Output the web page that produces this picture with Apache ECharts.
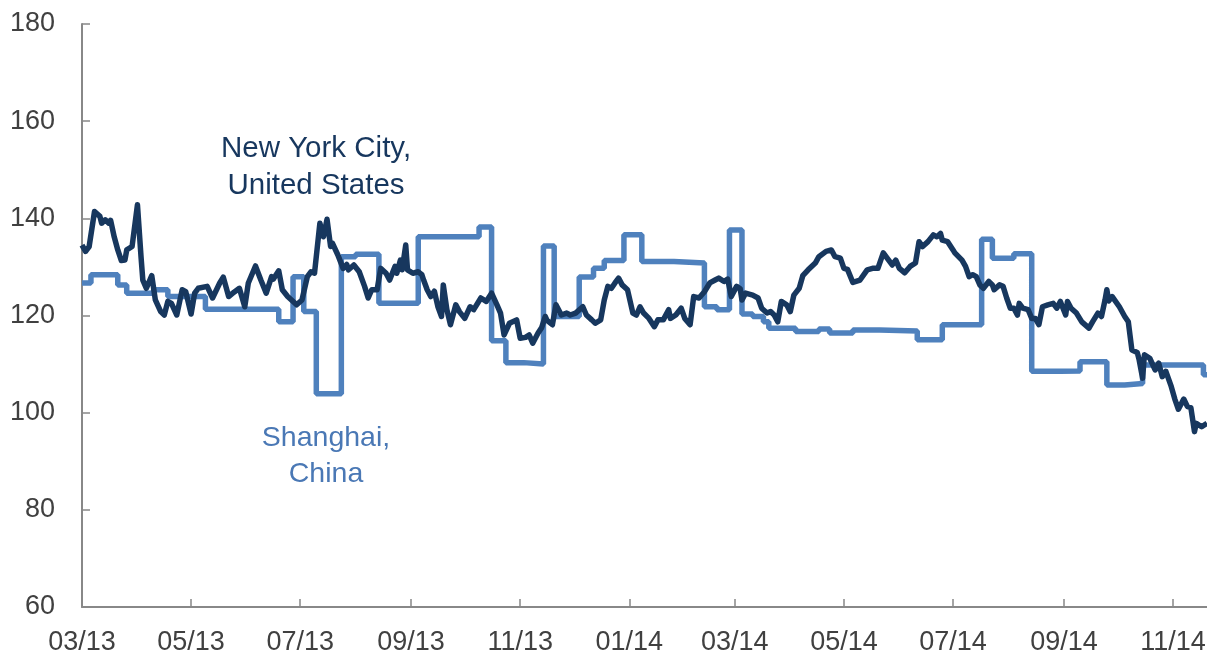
<!DOCTYPE html>
<html lang="en">
<head>
	<meta charset="UTF-8">
	<title>Index: New York City vs Shanghai</title>
	<script src="https://cdn.jsdelivr.net/npm/echarts@6.0.0/dist/echarts.min.js"></script>
	<style>
		html, body { margin: 0; padding: 0; background: #fff; }
	</style>
</head>
<body>
	<div id="main" style="width: 1207px; height: 655px;"></div>
	<script>
		// first and last day shown on the x axis
		var firstDay = '2013-03-01'
		var lastDay = '2014-11-20'

		// y axis
		var yMin = 60
		var yMax = 180
		var yStep = 20

		// New York City, United States  [date, index]
		var nycData = [
			['2013-03-01', 134.5], ['2013-03-03', 133.2], ['2013-03-05', 134.2], ['2013-03-06', 133.8],
			['2013-03-08', 141.4], ['2013-03-11', 140.4], ['2013-03-12', 139.0], ['2013-03-14', 139.7],
			['2013-03-16', 139.0], ['2013-03-17', 139.6], ['2013-03-19', 136.2], ['2013-03-21', 133.5],
			['2013-03-23', 131.3], ['2013-03-25', 131.4], ['2013-03-26', 133.5], ['2013-03-29', 134.2],
			['2013-04-01', 142.8], ['2013-04-03', 132.1], ['2013-04-04', 127.3], ['2013-04-06', 125.6],
			['2013-04-09', 128.2], ['2013-04-11', 123.2], ['2013-04-14', 120.8], ['2013-04-16', 120.1],
			['2013-04-18', 122.9], ['2013-04-20', 122.5], ['2013-04-23', 120.1], ['2013-04-26', 125.3],
			['2013-04-28', 124.9], ['2013-05-01', 120.3], ['2013-05-03', 124.6], ['2013-05-05', 125.6],
			['2013-05-10', 126.0], ['2013-05-13', 123.6], ['2013-05-17', 126.7], ['2013-05-19', 127.9],
			['2013-05-22', 123.9], ['2013-05-25', 124.8], ['2013-05-28', 125.6], ['2013-05-31', 121.8],
			['2013-06-02', 126.7], ['2013-06-06', 130.2], ['2013-06-09', 127.3], ['2013-06-12', 124.6],
			['2013-06-15', 128.0], ['2013-06-16', 127.5], ['2013-06-19', 129.2], ['2013-06-21', 125.3],
			['2013-06-24', 123.9], ['2013-06-29', 122.2], ['2013-07-02', 123.2], ['2013-07-05', 128.0],
			['2013-07-07', 129.0], ['2013-07-09', 128.7], ['2013-07-12', 139.0], ['2013-07-13', 139.3],
			['2013-07-14', 136.2], ['2013-07-16', 139.8], ['2013-07-18', 134.2], ['2013-07-19', 134.9],
			['2013-07-22', 132.5], ['2013-07-25', 129.7], ['2013-07-27', 130.5], ['2013-07-28', 129.4],
			['2013-07-31', 130.4], ['2013-08-03', 129.0], ['2013-08-06', 126.0], ['2013-08-08', 123.6],
			['2013-08-10', 125.3], ['2013-08-13', 125.3], ['2013-08-15', 129.7], ['2013-08-18', 128.7],
			['2013-08-20', 127.3], ['2013-08-23', 130.1], ['2013-08-24', 128.7], ['2013-08-26', 131.4],
			['2013-08-27', 129.4], ['2013-08-29', 134.5], ['2013-08-30', 129.4], ['2013-09-02', 128.7],
			['2013-09-05', 129.0], ['2013-09-07', 128.4], ['2013-09-08', 127.3], ['2013-09-10', 125.3],
			['2013-09-12', 123.9], ['2013-09-14', 125.0], ['2013-09-16', 121.8], ['2013-09-18', 119.8],
			['2013-09-19', 126.3], ['2013-09-21', 121.2], ['2013-09-23', 118.1], ['2013-09-26', 122.2],
			['2013-09-28', 120.8], ['2013-10-01', 119.4], ['2013-10-04', 121.8], ['2013-10-06', 121.2],
			['2013-10-10', 123.6], ['2013-10-13', 122.9], ['2013-10-16', 124.6], ['2013-10-19', 122.2],
			['2013-10-21', 120.5], ['2013-10-23', 116.0], ['2013-10-26', 118.4], ['2013-10-30', 119.1],
			['2013-11-01', 115.3], ['2013-11-04', 115.5], ['2013-11-06', 116.0], ['2013-11-08', 114.3],
			['2013-11-11', 116.4], ['2013-11-13', 117.5], ['2013-11-15', 119.8], ['2013-11-16', 119.0],
			['2013-11-19', 118.1], ['2013-11-21', 122.2], ['2013-11-24', 120.1], ['2013-11-27', 120.5],
			['2013-11-29', 120.1], ['2013-12-02', 120.5], ['2013-12-06', 121.8], ['2013-12-08', 120.1],
			['2013-12-11', 119.1], ['2013-12-13', 118.4], ['2013-12-16', 119.1], ['2013-12-18', 123.2],
			['2013-12-20', 126.0], ['2013-12-22', 125.6], ['2013-12-24', 126.7], ['2013-12-26', 127.7],
			['2013-12-28', 126.3], ['2013-12-31', 125.3], ['2014-01-03', 120.5], ['2014-01-05', 120.1],
			['2014-01-07', 121.8], ['2014-01-09', 120.5], ['2014-01-12', 119.4], ['2014-01-15', 117.7],
			['2014-01-17', 119.1], ['2014-01-20', 119.1], ['2014-01-23', 121.2], ['2014-01-24', 119.4],
			['2014-01-27', 120.1], ['2014-01-30', 121.5], ['2014-02-01', 119.4], ['2014-02-04', 118.1],
			['2014-02-06', 123.9], ['2014-02-09', 123.6], ['2014-02-12', 124.9], ['2014-02-15', 126.7],
			['2014-02-18', 127.3], ['2014-02-20', 127.7], ['2014-02-23', 127.0], ['2014-02-25', 127.5],
			['2014-02-27', 123.9], ['2014-03-02', 126.0], ['2014-03-04', 125.5], ['2014-03-05', 123.2],
			['2014-03-07', 124.6], ['2014-03-11', 124.2], ['2014-03-14', 123.6], ['2014-03-16', 121.5],
			['2014-03-19', 120.5], ['2014-03-21', 120.8], ['2014-03-23', 120.1], ['2014-03-25', 118.7],
			['2014-03-27', 122.9], ['2014-03-30', 122.2], ['2014-04-01', 120.8], ['2014-04-03', 124.2],
			['2014-04-06', 125.6], ['2014-04-08', 128.2], ['2014-04-11', 129.4], ['2014-04-15', 130.8],
			['2014-04-17', 132.1], ['2014-04-21', 133.2], ['2014-04-24', 133.5], ['2014-04-26', 132.1],
			['2014-04-29', 131.8], ['2014-05-01', 129.7], ['2014-05-03', 129.5], ['2014-05-06', 126.8],
			['2014-05-10', 127.3], ['2014-05-14', 129.4], ['2014-05-17', 129.7], ['2014-05-20', 129.7],
			['2014-05-23', 132.9], ['2014-05-26', 131.4], ['2014-05-28', 130.4], ['2014-05-30', 131.4],
			['2014-06-01', 129.7], ['2014-06-04', 128.8], ['2014-06-07', 130.1], ['2014-06-10', 130.8],
			['2014-06-12', 135.2], ['2014-06-14', 134.2], ['2014-06-17', 135.2], ['2014-06-20', 136.6],
			['2014-06-22', 136.2], ['2014-06-24', 136.9], ['2014-06-25', 135.5], ['2014-06-28', 135.2],
			['2014-07-01', 133.5], ['2014-07-02', 132.9], ['2014-07-06', 131.4], ['2014-07-08', 130.1],
			['2014-07-10', 128.0], ['2014-07-12', 128.4], ['2014-07-14', 128.0], ['2014-07-16', 126.3],
			['2014-07-18', 125.6], ['2014-07-21', 127.0], ['2014-07-23', 126.3], ['2014-07-24', 125.3],
			['2014-07-27', 126.3], ['2014-07-29', 126.0], ['2014-07-31', 123.6], ['2014-08-02', 121.5],
			['2014-08-04', 121.5], ['2014-08-06', 120.1], ['2014-08-07', 122.5], ['2014-08-09', 121.5],
			['2014-08-12', 121.2], ['2014-08-14', 119.4], ['2014-08-16', 119.4], ['2014-08-18', 118.1],
			['2014-08-20', 121.8], ['2014-08-23', 122.2], ['2014-08-26', 122.5], ['2014-08-28', 121.5],
			['2014-08-30', 122.9], ['2014-09-02', 120.1], ['2014-09-03', 122.9], ['2014-09-05', 121.5],
			['2014-09-08', 120.5], ['2014-09-11', 118.7], ['2014-09-15', 117.4], ['2014-09-17', 118.7],
			['2014-09-20', 120.5], ['2014-09-22', 119.8], ['2014-09-24', 123.2], ['2014-09-25', 125.3],
			['2014-09-26', 123.0], ['2014-09-28', 123.9], ['2014-09-29', 123.6], ['2014-10-02', 121.8],
			['2014-10-05', 119.8], ['2014-10-07', 118.7], ['2014-10-09', 112.9], ['2014-10-12', 112.4],
			['2014-10-13', 111.0], ['2014-10-15', 107.1], ['2014-10-16', 111.9], ['2014-10-19', 111.2],
			['2014-10-22', 108.8], ['2014-10-24', 110.2], ['2014-10-26', 107.4], ['2014-10-28', 108.5],
			['2014-10-31', 105.4], ['2014-11-02', 102.8], ['2014-11-04', 100.7], ['2014-11-07', 102.8],
			['2014-11-09', 101.3], ['2014-11-11', 101.0], ['2014-11-13', 96.1], ['2014-11-14', 97.8],
			['2014-11-17', 97.1], ['2014-11-20', 97.8]
		]

		// Shanghai, China  [date the level starts, index]
		var shanghaiData = [
			['2013-03-01', 126.7], ['2013-03-06', 128.4], ['2013-03-21', 126.3], ['2013-03-26', 124.6],
			['2013-04-10', 125.3], ['2013-04-18', 123.9], ['2013-05-09', 121.3], ['2013-06-19', 118.7],
			['2013-06-27', 128.0], ['2013-07-03', 120.8], ['2013-07-10', 103.9], ['2013-07-24', 132.1],
			['2013-08-01', 132.6], ['2013-08-14', 122.5], ['2013-09-05', 136.2], ['2013-10-09', 138.2],
			['2013-10-16', 114.8], ['2013-10-24', 110.3], ['2013-11-03', 110.0], ['2013-11-14', 134.3],
			['2013-11-20', 119.8], ['2013-12-04', 127.9], ['2013-12-12', 129.7], ['2013-12-18', 131.3],
			['2013-12-29', 136.6], ['2014-01-08', 131.1], ['2014-01-26', 130.8], ['2014-02-12', 121.8],
			['2014-02-19', 121.2], ['2014-02-26', 137.6], ['2014-03-05', 120.3], ['2014-03-11', 119.8],
			['2014-03-17', 118.7], ['2014-03-20', 117.4], ['2014-04-04', 116.7], ['2014-04-17', 117.2],
			['2014-04-23', 116.4], ['2014-05-06', 117.0], ['2014-05-21', 116.8], ['2014-06-11', 115.0],
			['2014-06-25', 118.1], ['2014-07-17', 135.7], ['2014-07-23', 131.8], ['2014-08-04', 132.7],
			['2014-08-14', 108.5], ['2014-08-30', 108.6], ['2014-09-10', 110.5], ['2014-09-25', 105.7],
			['2014-10-05', 106.0], ['2014-10-15', 109.8], ['2014-11-18', 107.8], ['2014-11-20', 107.8]
		]

		var nycName = 'New York City,\nUnited States'
		var shanghaiName = 'Shanghai,\nChina'

		// one category per day
		function dayList(from, to) {
			var out = []
			var d = new Date(from + 'T00:00:00Z')
			var end = new Date(to + 'T00:00:00Z')
			while (d <= end) {
				out.push(d.toISOString().slice(0, 10))
				d.setUTCDate(d.getUTCDate() + 1)
			}
			return out
		}
		var days = dayList(firstDay, lastDay)

		// a tick on the 1st of every odd month
		function isTickDay(index, value) {
			return value.slice(8) === '01' && parseInt(value.slice(5, 7), 10) % 2 === 1
		}

		var font = "'Liberation Sans', Arial, sans-serif"
		var axisGrey = '#888888'
		var nycColor = '#17375e'
		var shanghaiColor = '#4f81bd'

		var myChart = echarts.init(document.getElementById('main'))

		var option = {
			animation: false,
			backgroundColor: '#ffffff',
			grid: {
				left: 82,
				right: 0,
				top: 24,
				bottom: 48,
				containLabel: false,
				outerBoundsMode: 'none'
			},
			xAxis: {
				type: 'category',
				data: days,
				boundaryGap: false,
				axisLine: { lineStyle: { color: axisGrey, width: 2 } },
				axisTick: {
					show: true,
					inside: true,
					length: 8,
					interval: isTickDay,
					lineStyle: { color: axisGrey, width: 1.5 }
				},
				axisLabel: {
					interval: isTickDay,
					margin: 22,
					color: '#404040',
					fontSize: 27,
					fontFamily: font,
					formatter: function (value) {
						return value.slice(5, 7) + '/' + value.slice(2, 4)
					}
				},
				splitLine: { show: false }
			},
			yAxis: {
				type: 'value',
				min: yMin,
				max: yMax,
				interval: yStep,
				axisLine: { show: true, lineStyle: { color: axisGrey, width: 2 } },
				axisTick: {
					show: true,
					inside: true,
					length: 8,
					lineStyle: { color: axisGrey, width: 1.5 }
				},
				axisLabel: {
					margin: 27,
					color: '#404040',
					fontSize: 27,
					fontFamily: font
				},
				splitLine: { show: false }
			},
			series: [
				{
					name: shanghaiName,
					type: 'line',
					step: 'end',
					data: shanghaiData,
					showSymbol: false,
					lineStyle: { color: shanghaiColor, width: 5.5 },
					z: 2
				},
				{
					name: nycName,
					type: 'line',
					data: nycData,
					showSymbol: false,
					lineStyle: { color: nycColor, width: 5.5, join: 'round' },
					z: 3
				}
			],
			graphic: [
				{
					type: 'text',
					x: 316,
					y: 167,
					style: {
						text: nycName,
						align: 'center',
						verticalAlign: 'middle',
						lineHeight: 37,
						font: '29.5px ' + font,
						fill: nycColor
					}
				},
				{
					type: 'text',
					x: 326,
					y: 456,
					style: {
						text: shanghaiName,
						align: 'center',
						verticalAlign: 'middle',
						lineHeight: 36,
						font: '28.5px ' + font,
						fill: '#4a78b5'
					}
				}
			]
		}

		myChart.setOption(option)
	</script>
</body>
</html>
